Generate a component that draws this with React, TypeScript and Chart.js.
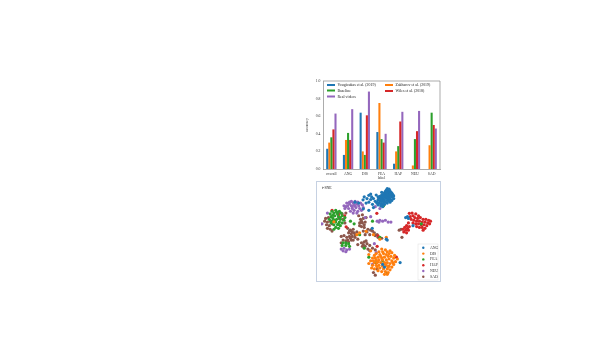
import React, { useEffect, useRef } from "react";
import { Chart, registerables } from "chart.js";

Chart.register(...registerables);

const FONT = '"Liberation Serif", serif';

// ---- bar chart data ----
const categories = ["overall", "ANG", "DIS", "FEA", "HAP", "NEU", "SAD"];
const vougioukas = [0.23, 0.16, 0.64, 0.42, 0.06, 0, 0];
const zakharov = [0.3, 0.33, 0.2, 0.75, 0.2, 0.04, 0.27];
const baseline = [0.36, 0.41, 0.16, 0.34, 0.26, 0.34, 0.64];
const wiles = [0.45, 0.33, 0.61, 0.3, 0.54, 0.43, 0.5];
const realVideos = [0.63, 0.68, 0.88, 0.4, 0.65, 0.66, 0.46];
const yTicks = ["0.0", "0.2", "0.4", "0.6", "0.8", "1.0"];

// ---- t-SNE data ----
const ANG = [[72,98],[74,97.5],[71,96.5],[73,96],[75,95.5],[70,95],[72,94.5],[74,94],[76,94],[77,93],[69,93.5],[71,93],[73,92.5],[75,92],[78,91.5],[66,94],[68,92],[70,91.5],[72,91],[74,90.5],[76,90.5],[79,90],[66,91],[68,90],[70,89.5],[72,89],[74,88.5],[77,88.5],[64,89.5],[66,88.5],[68,88],[71,87.5],[73,87],[75,86.5],[79,87],[63,87.5],[65,87],[67,86],[69,85.5],[72,85],[74,84.5],[77,85],[62,85.5],[64,84.5],[66,84],[68,83.5],[70,83],[72,82],[75,83],[61,83],[63,82],[65,81.5],[67,81],[69,80.5],[62,80],[65,79],[67,78],[45.7,85.7],[52,90.7],[50,87],[54,92],[57,87],[55,89],[62,89],[60,91],[49,82],[56,80.7],[60.7,82],[52,74],[46,75.7],[55.7,54],[41,82],[37,83],[92,66],[94,67],[95,65],[100,57],[71,42],[72,41],[69,11],[67,14],[86,16],[54,86],[59,84],[47,89],[52,83],[57,77]];
const DIS = [[66,31],[70,30],[63,28],[67,28],[72,28],[75,29],[60,26],[64,25],[68,26],[71,25],[74,26],[77,27],[80,24],[58,24],[62,22],[65,23],[69,22],[73,23],[76,23],[79,21],[83,20],[56,21],[60,19],[63,19],[67,19],[71,19],[74,20],[77,18],[81,17],[54,18],[58,16],[61,16],[65,16],[69,16],[72,16],[75,15],[79,14],[52,15],[56,13],[60,13],[63,13],[67,12],[71,13],[74,12],[77,11],[64,10],[68,9],[72,9],[75,8],[62,7],[66,6],[70,6],[73,5],[69,3],[72,3],[55,10],[58,9],[52,25],[54,29],[62,17],[66,21],[70,14],[73,11],[78,16],[59,21],[61,11],[57,18],[42,49],[39,47],[49,50.7],[57,47],[14,61.3],[71,44],[64,42]];
const FEA = [[12,73],[16,74],[20,73],[10,70],[14,71],[18,70],[22,71],[11,67],[15,68],[19,67],[23,68],[26,66],[9,64],[13,65],[17,64],[21,64],[25,63],[12,62],[16,61],[20,61],[23,60],[14,58],[18,58],[21,57],[16,55],[19,54],[14,53],[13,68.5],[17,72],[21,66],[15,63],[19,59],[11,60],[24,38],[27,38],[30,37],[23,35],[27,35],[31,34],[36,59],[42,47],[56,62],[66,81],[68,79],[109,59],[47,32],[52,22],[64,44],[67,18],[72,4],[60,16],[32,62]];
const HAP = [[96,70.7],[99,71],[103,70],[106,68],[100,68],[97,67],[102,66],[105,65],[108,66],[111,64],[114,64],[117,63],[119,62],[98,64],[101,63],[104,62],[107,62],[110,61],[113,61],[116,60],[118,59],[100,60],[103,59],[106,59],[109,58],[112,58],[115,57],[104,56],[107,55],[110,55],[113,54],[111,52],[95,60],[93,57],[96,56],[91,55],[94,54],[89,53],[92,52],[95,52],[90,50],[93,49],[12,74],[19,69],[25.7,68],[60.7,70.7],[27.3,55.7],[65.7,80.7],[82,22],[62,45.7],[61,34]];
const NEU = [[33,84],[37,84],[28,82],[31,81],[35,82],[39,81],[43,82],[25,79],[29,79],[33,79],[37,79],[41,79],[45,80],[26,76],[30,76],[34,76],[38,77],[42,76],[46,77],[32,73],[36,74],[40,73],[44,74],[35,71],[39,71],[27,78],[31,83],[36,80],[40,83],[34,78],[7,71],[61,62],[64,63],[67,62],[70,63],[73,61],[76,61],[63,61],[22,31],[25,32],[28,30],[31,31],[24,29],[27,28],[64,76],[59,78],[54,67],[1,59],[58,37],[60,27],[56,14],[48,66]];
const SAD = [[5,65],[8,66],[4,62],[7,61],[10,62],[6,58],[9,57],[12,59],[7,54],[10,53],[12,51],[29,54],[32,52],[35,53],[30,49],[33,48],[36,49],[39,50],[31,45],[34,45],[37,44],[29,41],[33,41],[31,51],[34,50],[37,47],[32,43],[35,41],[41,68],[45,69],[43,64],[46,65],[49,66],[42,60],[45,60],[48,61],[44,56],[47,55],[44,62],[47,58],[42,57],[22,45],[25,46],[28,44],[24,41],[27,40],[30,39],[22,38],[44,38],[47,39],[50,37],[45,34],[48,34],[51,31],[46,36],[49,40],[53,35],[19,71],[23,70],[27,71],[20,65],[24,64],[26,60],[46,51],[50,50],[54,52],[58,49],[61,47],[48,47],[53,47],[56,51],[51,53],[85,52],[87,53],[88,44],[59,46],[62,44],[66,43],[61,9],[57,5],[59,2],[53,29],[56,32],[59,30],[40,42],[40,36]];

const colors = { blue: "#1f77b4", orange: "#ff7f0e", green: "#2ca02c", red: "#d62728", purple: "#9467bd", brown: "#8c564b" };
const frame = "#c6d1e2";

const barLegend: any = {
  id: "barLegend",
  afterDraw(chart: any) {
    const c = chart.ctx;
    const placed = [[0, 22, 10], [2, 22, 15.5], [4, 22, 21.5], [1, 80, 10], [3, 80, 16]];
    const sets = chart.data.datasets;
    c.save();
    c.font = `3.9px ${FONT}`;
    c.textBaseline = "middle";
    placed.forEach(([i, x, y]) => {
      c.fillStyle = sets[i].backgroundColor;
      c.fillRect(x, y - 1, 8, 2);
      c.fillStyle = "#222";
      c.fillText(sets[i].label, x + 10.5, y);
    });
    c.restore();
  },
};

function scatterPlugin(title: string): any {
  return {
    id: "scatterDecor",
    afterDraw(chart: any) {
      const c = chart.ctx;
      c.save();
      c.font = `3.9px ${FONT}`;
      c.fillStyle = "#222";
      c.textBaseline = "middle";
      c.fillText(title, 5, 6);
      const lx = 101, ly = 62, lw = 20, lh = 36;
      c.fillStyle = "rgba(255,255,255,0.9)";
      c.strokeStyle = "#ddd";
      c.lineWidth = 0.5;
      c.fillRect(lx, ly, lw, lh);
      c.strokeRect(lx, ly, lw, lh);
      chart.data.datasets.forEach((d: any, i: number) => {
        const y = ly + 3.8 + i * 5.8;
        c.fillStyle = d.backgroundColor;
        c.beginPath();
        c.arc(lx + 5.3, y, 1.2, 0, Math.PI * 2);
        c.fill();
        c.fillStyle = "#333";
        c.fillText(d.label, lx + 12, y);
      });
      c.restore();
    },
  };
}

export default function App() {
  const barRef = useRef<HTMLCanvasElement>(null);
  const scatterRef = useRef<HTMLCanvasElement>(null);

  useEffect(() => {
    const tick = { font: { family: FONT, size: 3.8 }, color: "#333", padding: 1 };
    const bar = new Chart(barRef.current!, {
      type: "bar",
      data: {
        labels: categories,
        datasets: [
          { label: "Vougioukas et al. (2019)", data: vougioukas, backgroundColor: colors.blue },
          { label: "Zakharov et al. (2019)", data: zakharov, backgroundColor: colors.orange },
          { label: "Baseline", data: baseline, backgroundColor: colors.green },
          { label: "Wiles et al. (2018)", data: wiles, backgroundColor: colors.red },
          { label: "Real videos", data: realVideos, backgroundColor: colors.purple },
        ],
      },
      options: {
        responsive: false,
        animation: false,
        devicePixelRatio: 1,
        layout: { padding: { top: 6, right: 5, left: 0, bottom: 0 } },
        datasets: { bar: { categoryPercentage: 0.62, barPercentage: 1 } },
        plugins: { legend: { display: false }, title: { display: false }, tooltip: { enabled: false } },
        scales: {
          x: {
            grid: { display: false, tickLength: 1.5, tickColor: "#555" },
            border: { color: "#888", width: 0.7 },
            ticks: { ...tick, maxRotation: 0, autoSkip: false },
            title: { display: true, text: "label", font: { family: FONT, size: 3.9 }, color: "#333", padding: 0 },
            afterFit(s: any) { s.height = 11; },
          },
          y: {
            min: 0,
            max: 1,
            grid: { display: false, tickLength: 1.5, tickColor: "#555" },
            border: { color: "#888", width: 0.7 },
            ticks: { ...tick, stepSize: 0.2, callback: (_v: any, i: number) => yTicks[i] },
            title: { display: true, text: "accuracy", font: { family: FONT, size: 3.9 }, color: "#333", padding: 0 },
            afterFit(s: any) { s.width = 18; },
          },
        },
      } as any,
      plugins: [
        {
          id: "topRight",
          afterDatasetsDraw(chart: any) {
            const { ctx, chartArea: a } = chart;
            ctx.save();
            ctx.strokeStyle = "#888";
            ctx.lineWidth = 0.7;
            ctx.beginPath();
            ctx.moveTo(a.left, a.top);
            ctx.lineTo(a.right, a.top);
            ctx.lineTo(a.right, a.bottom);
            ctx.stroke();
            ctx.restore();
          },
        },
        barLegend,
      ],
    });

    const sets: [string, number[][], string][] = [
      ["ANG", ANG, colors.blue],
      ["DIS", DIS, colors.orange],
      ["FEA", FEA, colors.green],
      ["HAP", HAP, colors.red],
      ["NEU", NEU, colors.purple],
      ["SAD", SAD, colors.brown],
    ];
    const scatter = new Chart(scatterRef.current!, {
      type: "scatter",
      data: {
        datasets: sets.map(([label, pts, color]) => ({
          label,
          data: pts.map(([x, y]) => ({ x, y })),
          backgroundColor: color,
          borderWidth: 0,
          pointRadius: 1.6,
        })),
      },
      options: {
        responsive: false,
        animation: false,
        devicePixelRatio: 1,
        layout: { padding: 0 },
        plugins: { legend: { display: false }, title: { display: false }, tooltip: { enabled: false } },
        scales: {
          x: { display: false, min: 0, max: 125 },
          y: { display: false, min: 0, max: 101 },
        },
      } as any,
      plugins: [scatterPlugin("t-SNE")],
    });

    return () => {
      bar.destroy();
      scatter.destroy();
    };
  }, []);

  return (
    <div style={{ position: "relative", width: 591, height: 325 }}>
      <canvas
        ref={barRef}
        width={140}
        height={105}
        style={{ position: "absolute", left: 297, top: 67, width: 140, height: 105, filter: "blur(0.3px)" }}
      />
      <div
        style={{ position: "absolute", left: 308, top: 173, width: 125, height: 101, boxSizing: "border-box", border: `1px solid ${frame}` }}
      >
        <canvas
          ref={scatterRef}
          width={123}
          height={99}
          style={{ display: "block", width: 123, height: 99, filter: "blur(0.3px)" }}
        />
      </div>
    </div>
  );
}
